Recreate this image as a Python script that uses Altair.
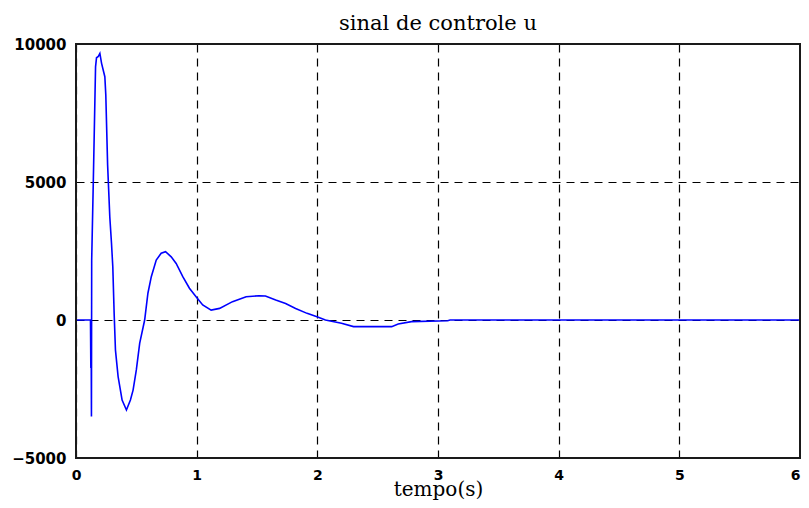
import altair as alt
import pandas as pd

# time (s) and control signal u
t_values = [0.0, 0.120, 0.123, 0.125, 0.128, 0.130, 0.143, 0.162, 0.170, 0.185,
            0.198, 0.212, 0.239, 0.247, 0.262, 0.280, 0.294, 0.305, 0.316, 0.327,
            0.349, 0.368, 0.382, 0.418, 0.451, 0.473, 0.500, 0.528, 0.569, 0.596,
            0.624, 0.665, 0.706, 0.742, 0.789, 0.830, 0.885, 0.940, 0.995, 1.050,
            1.120, 1.190, 1.297, 1.410, 1.517, 1.570, 1.655, 1.737, 1.820, 1.915,
            1.997, 2.067, 2.200, 2.300, 2.616, 2.670, 2.780, 3.080, 3.100, 6.0]
u_values = [0, 0, -1740, 0, -3500, 2170, 4930, 9170, 9500, 9550,
            9660, 9300, 8815, 8150, 5620, 3740, 2790, 1930, 250, -1090,
            -2050, -2540, -2900, -3260, -2900, -2540, -1810, -840, 0, 970,
            1570, 2170, 2420, 2475, 2290, 2050, 1570, 1150, 845, 545,
            360, 420, 665, 845, 880, 870, 725, 600, 420, 240,
            120, 0, -120, -240, -240, -145, -60, -25, 0, 0]

x_ticks = [0, 1, 2, 3, 4, 5, 6]
y_ticks = [-5000, 0, 5000, 10000]

df = pd.DataFrame({"t": t_values, "u": u_values, "order": list(range(len(t_values)))})

label_font = "DejaVu Sans"
serif_font = "DejaVu Serif"
W, H = 724, 414

x_enc = alt.X(
    "t:Q",
    scale=alt.Scale(domain=[0, 6], nice=False, zero=False),
    axis=alt.Axis(
        values=x_ticks, format="d", title="tempo(s)",
        grid=True, gridDash=[8, 6], gridColor="black", gridWidth=1.2, gridOpacity=1,
        ticks=False, tickSize=0, domain=False,
        labelFont=label_font, labelFontSize=14, labelFontWeight="bold",
        labelColor="black", labelPadding=10, labelFlush=False,
        labelAlign=alt.condition("datum.value == 6", alt.value("right"), alt.value("center")),
        titleFont=serif_font, titleFontSize=20, titleFontWeight="normal",
        titleColor="black", titleBaseline="alphabetic", titleY=37,
    ),
)
y_enc = alt.Y(
    "u:Q",
    scale=alt.Scale(domain=[-5000, 10000], nice=False, zero=False),
    axis=alt.Axis(
        values=y_ticks, format="d", title=None,
        grid=True, gridDash=[8, 6], gridColor="black", gridWidth=1.2, gridOpacity=1,
        ticks=False, tickSize=0, domain=False,
        labelFont=label_font, labelFontSize=15, labelFontWeight="bold",
        labelColor="black", labelPadding=10, labelFlush=False,
    ),
)

line = alt.Chart(df).mark_line(color="#0000FF", strokeWidth=1.6).encode(
    x=x_enc, y=y_enc, order="order:Q"
)

frame = alt.Chart(df).mark_rect(
    fill=None, stroke="#1a1a1a", strokeWidth=2
).encode(
    x=alt.value(0), x2=alt.value(W), y=alt.value(0), y2=alt.value(H)
)

chart = alt.layer(line, frame).properties(
    width=W,
    height=H,
    title=alt.Title(
        "sinal de controle u", font=serif_font, fontSize=21, fontWeight="normal",
        color="black", anchor="middle", frame="group", baseline="alphabetic", offset=-14,
    ),
    autosize=alt.AutoSizeParams(type="none"),
    padding={"left": 68, "top": 36, "right": 1, "bottom": 42},
).configure_view(
    strokeWidth=0, fill="white"
).configure(background="white")

chart.save("out.html", embed_options={"renderer": "svg", "actions": False})
